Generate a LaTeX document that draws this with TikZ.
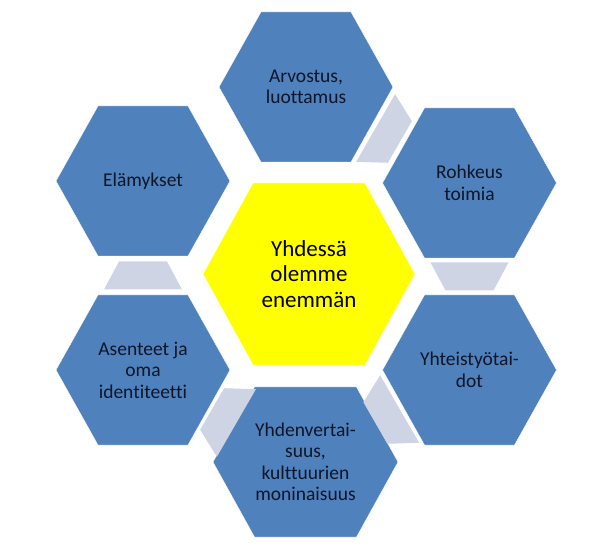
\documentclass[tikz,border=0pt]{standalone}
\usepackage{fontspec}
\setmainfont{Carlito}[Ligatures=NoCommon]
\usepackage{tikz}
\usetikzlibrary{calc,backgrounds}
\definecolor{hexblue}{RGB}{79,129,189}
\definecolor{hexyellow}{RGB}{255,255,0}
\definecolor{linkgray}{RGB}{206,212,228}
\definecolor{labelnavy}{RGB}{14,22,40}

\begin{document}
\begin{tikzpicture}[x=1pt,y=-1pt,
    lab/.style={align=center,inner sep=0pt,text=labelnavy,font=\fontsize{19.5}{21.5}\selectfont},
    midlab/.style={align=center,inner sep=0pt,text=black,font=\fontsize{23}{25.5}\selectfont}]
  \useasboundingbox (0,0) rectangle (592,553);
  % labels first, hexagons go behind them
  \node[midlab] (mid) at (309,274) {Yhdessä\\olemme\\enemmän};
  \node[lab] (arv) at (306,87) {Arvostus,\\luottamus};
  \node[lab] (roh) at (469.5,183) {Rohkeus\\toimia};
  \node[lab] (yht) at (469.5,370) {Yhteistyötai-\\dot};
  \node[lab] (yhd) at (305.5,462) {Yhdenvertai-\\suus,\\kulttuurien\\moninaisuus};
  \node[lab] (ase) at (143,370) {Asenteet ja\\oma\\identiteetti};
  \node[lab] (ela) at (143,181) {Elämykset};
  \begin{scope}[on background layer]
    \foreach \c/\w/\t/\h/\col in {mid/106/56/91/hexyellow,arv/87/45/75/hexblue,roh/87/45/75/hexblue,yht/87/45/75/hexblue,yhd/92.5/51/75/hexblue,ase/87/45/75/hexblue,ela/87/45/75/hexblue}
      \fill[\col,draw=white] ($(\c)+(\w,0)$) -- ($(\c)+(\t,\h)$) -- ($(\c)+(-\t,\h)$) -- ($(\c)+(-\w,0)$) -- ($(\c)+(-\t,-\h)$) -- ($(\c)+(\t,-\h)$) -- cycle;
    % links between neighbours, narrow end points onward
    \foreach \a/\b/\ang in {arv/roh/-30,roh/yht/-90,yht/yhd/-150,yhd/ase/150,ase/ela/90}{
      \begin{scope}[shift={($(\a)!.5!(\b)$)},rotate=\ang]
        \fill[linkgray] (-14,-39) -- (-14,39) -- (14,24) -- (14,-24) -- cycle;
      \end{scope}}
  \end{scope}
\end{tikzpicture}
\end{document}
